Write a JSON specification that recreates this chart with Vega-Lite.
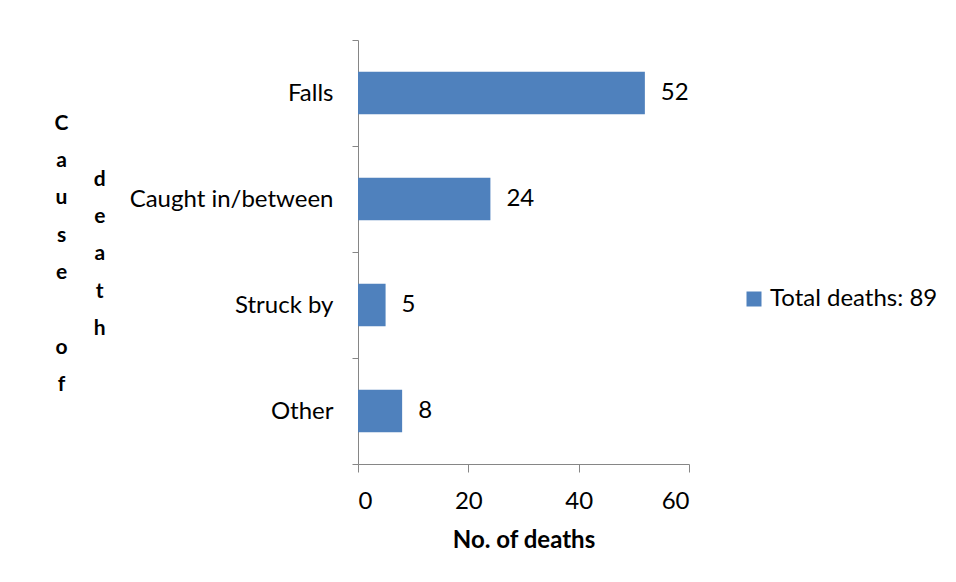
{
  "$schema": "https://vega.github.io/schema/vega-lite/v6.json",
  "width": 331,
  "height": 424,
  "autosize": {"type": "none"},
  "padding": {"left": 358, "top": 40, "right": 267, "bottom": 118},
  "background": "white",
  "config": {"view": {"stroke": null}, "font": "Lato"},
  "data": {
    "values": [
      {"cause": "Falls", "deaths": 52},
      {"cause": "Caught in/between", "deaths": 24},
      {"cause": "Struck by", "deaths": 5},
      {"cause": "Other", "deaths": 8}
    ]
  },
  "encoding": {
    "y": {
      "field": "cause",
      "type": "nominal",
      "sort": null,
      "scale": {"paddingInner": 0, "paddingOuter": 0},
      "axis": {
        "title": ["C", "\u200b", "a", "\u200b\u00a0\u00a0\u00a0\u00a0\u00a0\u00a0\u00a0\u00a0\u00a0\u00a0\u00a0\u00a0\u00a0\u00a0\u00a0d", "u", "\u200b\u00a0\u00a0\u00a0\u00a0\u00a0\u00a0\u00a0\u00a0\u00a0\u00a0\u00a0\u00a0\u00a0\u00a0\u00a0e", "s", "\u200b\u00a0\u00a0\u00a0\u00a0\u00a0\u00a0\u00a0\u00a0\u00a0\u00a0\u00a0\u00a0\u00a0\u00a0\u00a0a", "e", "\u200b\u00a0\u00a0\u00a0\u00a0\u00a0\u00a0\u00a0\u00a0\u00a0\u00a0\u00a0\u00a0\u00a0\u00a0\u00a0t", "\u200b", "\u200b\u00a0\u00a0\u00a0\u00a0\u00a0\u00a0\u00a0\u00a0\u00a0\u00a0\u00a0\u00a0\u00a0\u00a0\u00a0h", "o", "\u200b", "f"],
        "titleAngle": 0,
        "titleAlign": "center",
        "titleBaseline": "alphabetic",
        "titleX": -297,
        "titleY": 89,
        "titleFontSize": 21,
        "titleFontWeight": "bold",
        "titleLineHeight": 18.7,
        "titleColor": "black",
        "tickBand": "extent",
        "tickSize": 6,
        "tickColor": "#868686",
        "domainColor": "#868686",
        "labelFontSize": 24,
        "labelColor": "black",
        "labelPadding": 19,
        "labelLimit": 400
      }
    },
    "x": {
      "field": "deaths",
      "type": "quantitative",
      "scale": {"domain": [0, 60]},
      "axis": {
        "values": [0, 20, 40, 60],
        "grid": false,
        "title": "No. of deaths",
        "titleFontSize": 24,
        "titleFontWeight": "bold",
        "titleColor": "black",
        "titleBaseline": "alphabetic",
        "titleY": 83,
        "tickSize": 8,
        "tickColor": "#868686",
        "domainColor": "#868686",
        "labelFontSize": 24,
        "labelColor": "black",
        "labelPadding": 17
      }
    }
  },
  "layer": [
    {
      "mark": {"type": "bar", "color": "#4F81BD", "height": {"band": 0.4}},
      "encoding": {
        "color": {
          "datum": "Total deaths: 89",
          "type": "nominal",
          "scale": {"range": ["#4F81BD"]},
          "legend": {
            "title": null,
            "orient": "none",
            "legendX": 384,
            "legendY": 247,
            "padding": 0,
            "symbolType": "square",
            "symbolSize": 225,
            "symbolStrokeWidth": 0,
            "labelFontSize": 24,
            "labelColor": "black",
            "labelOffset": 4,
            "labelLimit": 400
          }
        }
      }
    },
    {
      "mark": {"type": "text", "align": "left", "baseline": "middle", "dx": 16, "fontSize": 24, "color": "black"},
      "encoding": {"text": {"field": "deaths", "type": "quantitative"}}
    }
  ]
}
